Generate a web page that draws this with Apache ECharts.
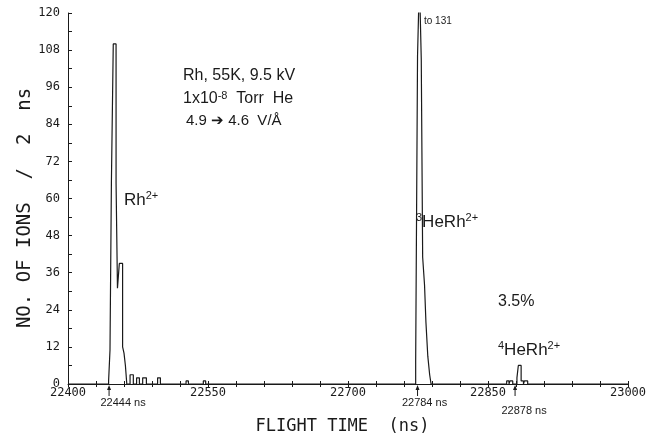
<!DOCTYPE html>
<html>
<head>
<meta charset="utf-8">
<script src="https://cdn.jsdelivr.net/npm/echarts@6/dist/echarts.min.js"></script>
<style>
  html, body { margin: 0; padding: 0; background: #fff; }
  #main { width: 662px; height: 438px; }
</style>
</head>
<body>
<div id="main"></div>
<script>
// histogram edges (ns) and counts per 2 ns
// each count holds from its time to the next one
const rhTimes  = [22443.5, 22445, 22446.5, 22448.5, 22451.5, 22453, 22455, 22458.5, 22460, 22461.5, 22463];
const rhCounts = [1, 11, 65, 110, 65, 31, 39, 12, 10, 6, 0];

const tailTimes  = [22466.5, 22470, 22473.5, 22476.5, 22480, 22484, 22496, 22499, 22526.5, 22529, 22545, 22547.5];
const tailCounts = [3, 0, 2, 0, 2, 0, 2, 0, 1, 0, 1, 0];

const he3Times  = [22772.5, 22774.5, 22776.5, 22778.5, 22780, 22782, 22783.5, 22785.5, 22787.5, 22789];
const he3Counts = [7, 106, 131, 105, 41, 32, 20, 9, 3, 0];

const he4Times  = [22870, 22872.5, 22873.5, 22876.5, 22881, 22882.5, 22885.5, 22888, 22889, 22892.5];
const he4Counts = [1, 0, 1, 0, 2, 6, 1, 0, 1, 0];

const xLabelValues = [22400, 22550, 22700, 22850, 23000];
const yLabelValues = [0, 12, 24, 36, 48, 60, 72, 84, 96, 108, 120];

// minor x ticks every 30 ns
const xTickValues = [];
for (let v = 22400; v <= 23000; v += 30) xTickValues.push(v);

// staircase outline: vertical edge at every bin boundary
const data = [[22400, 0]];
let prev = 0;
[[rhTimes, rhCounts], [tailTimes, tailCounts], [he3Times, he3Counts], [he4Times, he4Counts]].forEach(([ts, cs]) => {
  ts.forEach((t, i) => {
    data.push([t, prev]);
    data.push([t, cs[i]]);
    prev = cs[i];
  });
});
data.push([23000, 0]);

const ink = '#1a1a1a';
const mono = 'DejaVu Sans Mono';
const sans = 'Liberation Sans';

const chart = echarts.init(document.getElementById('main'), null, { renderer: 'canvas' });

const option = {
  animation: false,
  backgroundColor: '#fff',
  grid: { left: 68, right: 34, top: 13, bottom: 54, outerBoundsMode: 'none' },
  xAxis: [
    {
      type: 'value',
      min: 22400,
      max: 23000,
      position: 'bottom',
      name: 'FLIGHT TIME  (ns)',
      nameLocation: 'middle',
      nameGap: 34,
      nameTextStyle: { fontFamily: mono, fontSize: 17, color: ink, padding: [0, 11, 0, 0] },
      axisLine: { lineStyle: { color: ink, width: 1 } },
      axisTick: { show: true, length: 3, customValues: xTickValues, lineStyle: { color: ink } },
      axisLabel: { customValues: xLabelValues, fontFamily: mono, fontSize: 12, color: ink, margin: 3,
        formatter: v => String(v) },
      splitLine: { show: false }
    },
    {
      // inner half of the crossing ticks
      type: 'value',
      min: 22400,
      max: 23000,
      position: 'bottom',
      axisLine: { show: false },
      axisTick: { show: true, inside: true, length: 3, customValues: xTickValues, lineStyle: { color: ink } },
      axisLabel: { show: false },
      splitLine: { show: false }
    }
  ],
  yAxis: {
    type: 'value',
    min: 0,
    max: 120,
    interval: 12,
    axisLine: { show: true, lineStyle: { color: ink, width: 1 } },
    axisTick: { show: true, inside: true, length: 4, lineStyle: { color: ink } },
    minorTick: { show: true, splitNumber: 2, length: 4, lineStyle: { color: ink } },
    axisLabel: { fontFamily: mono, fontSize: 12, color: ink, margin: 8,
      formatter: v => (yLabelValues.indexOf(v) >= 0 ? String(v) : '') },
    splitLine: { show: false }
  },
  series: [{
    type: 'line',
    xAxisIndex: 0,
    data: data,
    symbol: 'none',
    clip: true,
    lineStyle: { color: ink, width: 1.2 }
  }]
};

chart.setOption(option);

// arrows marking the peak times under the axis
const arrows = [
  { t: 22444, text: '22444 ns', dx: 14, dy: 19 },
  { t: 22774.5, text: '22784 ns', dx: 7, dy: 19 },
  { t: 22879, text: '22878 ns', dx: 9, dy: 27 }
];

const graphics = [];
arrows.forEach(a => {
  const [px, py] = chart.convertToPixel({ xAxisIndex: 0, yAxisIndex: 0 }, [a.t, 0]);
  graphics.push({
    type: 'line', shape: { x1: px, y1: py + 5, x2: px, y2: py + 12 },
    style: { stroke: ink, lineWidth: 1 }, silent: true
  });
  graphics.push({
    type: 'polygon', shape: { points: [[px, py + 1], [px - 2, py + 6], [px + 2, py + 6]] },
    style: { fill: ink }, silent: true
  });
  graphics.push({
    type: 'text', x: px + a.dx, y: py + a.dy,
    style: { text: a.text, font: '11px ' + sans, fill: ink, align: 'center', verticalAlign: 'middle' },
    silent: true
  });
});

// y axis title, rotated to read upwards
graphics.push({
  type: 'text', x: 25, y: 208, rotation: Math.PI / 2,
  style: { text: 'NO. OF IONS  /  2  ns', fontFamily: mono, fontSize: 19, fill: ink,
    align: 'center', verticalAlign: 'middle' },
  silent: true
});

// free text; {s|..} parts are superscripts
const notes = [
  { x: 183, y: 76, text: 'Rh, 55K, 9.5 kV', size: 16 },
  { x: 183, y: 99, text: '1x10{s|-8}  Torr  He', size: 16 },
  { x: 186, y: 121, text: '4.9 ➔ 4.6  V/Å', size: 15 },
  { x: 124, y: 200, text: 'Rh{s|2+}', size: 17 },
  { x: 416, y: 222, text: '{s|3}HeRh{s|2+}', size: 17 },
  { x: 424, y: 21, text: 'to 131', size: 10 },
  { x: 498, y: 302, text: '3.5%', size: 16 },
  { x: 498, y: 350, text: '{s|4}HeRh{s|2+}', size: 17 }
];
notes.forEach(n => {
  graphics.push({
    type: 'text', x: n.x, y: n.y,
    style: {
      text: n.text, fontFamily: sans, fontSize: n.size, lineHeight: n.size + 2, fill: ink,
      align: 'left', verticalAlign: 'middle',
      rich: {
        s: { fontFamily: sans, fontSize: 11, lineHeight: 11, verticalAlign: 'top', fill: ink }
      }
    },
    silent: true
  });
});

chart.setOption({ graphic: graphics });
</script>
</body>
</html>
